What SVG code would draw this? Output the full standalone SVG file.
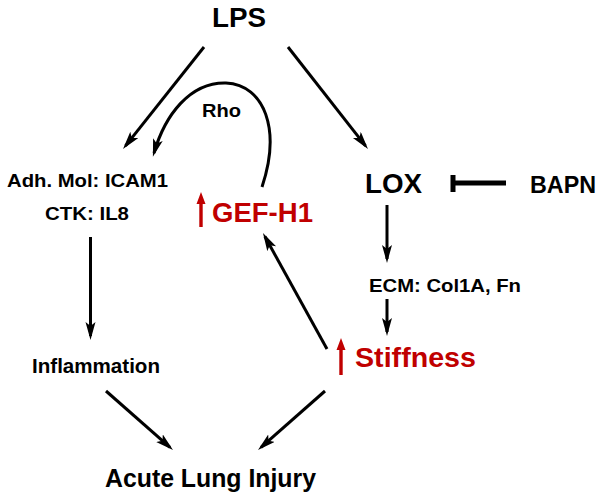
<svg xmlns="http://www.w3.org/2000/svg" width="602" height="501" viewBox="0 0 602 501">
  <style>
    text { font-family: "Liberation Sans", Arial, sans-serif; font-weight: bold; fill: #000; }
    .red { fill: #c00000; }
    .conn { stroke: #000; stroke-width: 3; fill: none; stroke-linecap: butt; }
    .inh { stroke: #000; stroke-width: 5; fill: none; }
  </style>
  <defs>
    <marker id="ah" markerWidth="20" markerHeight="12" refX="14" refY="5" orient="auto" markerUnits="userSpaceOnUse">
      <path d="M0,0 L18,5 L0,10 L4,5 z" fill="#000"/>
    </marker>
  </defs>
  <rect width="602" height="501" fill="#fff"/>

  <g id="connectors">
    <line class="conn" x1="204" y1="47" x2="125.5" y2="145.9" marker-end="url(#ah)"/>
    <line class="conn" x1="288" y1="47" x2="365.5" y2="145.9" marker-end="url(#ah)"/>
    <path class="conn" d="M262,187 C281,130 265,85 226,83 C190,82 165,115 154,153" marker-end="url(#ah)"/>
    <line class="conn" x1="90.5" y1="237" x2="90.5" y2="336" marker-end="url(#ah)"/>
    <line class="conn" x1="387" y1="205" x2="387" y2="259" marker-end="url(#ah)"/>
    <line class="conn" x1="387" y1="299" x2="387" y2="332" marker-end="url(#ah)"/>
    <line class="conn" x1="327" y1="349" x2="264.9" y2="236.5" marker-end="url(#ah)"/>
    <line class="conn" x1="106" y1="391" x2="170" y2="447.4" marker-end="url(#ah)"/>
    <line class="conn" x1="325" y1="391" x2="261" y2="447.4" marker-end="url(#ah)"/>
    <g id="inhibition">
      <line class="inh" x1="453" y1="183" x2="506" y2="183"/>
      <line class="inh" x1="453" y1="175" x2="453" y2="192"/>
    </g>
  </g>

  <g id="node-lps"><text x="212" y="27" font-size="27" textLength="54" lengthAdjust="spacingAndGlyphs">LPS</text></g>
  <g id="node-adh">
    <text x="7" y="187" font-size="18.5" textLength="161" lengthAdjust="spacingAndGlyphs">Adh. Mol: ICAM1</text>
    <text x="45" y="219.5" font-size="18.5" textLength="84" lengthAdjust="spacingAndGlyphs">CTK: IL8</text>
  </g>
  <g id="label-rho"><text x="202" y="117" font-size="18.5" textLength="39" lengthAdjust="spacingAndGlyphs">Rho</text></g>
  <g id="node-gefh1">
    <path class="red" d="M201,192 L205.5,204 L202.7,204 L202.7,227 L199.3,227 L199.3,204 L196.5,204 z"/>
    <text class="red" x="212" y="222" font-size="28" textLength="101" lengthAdjust="spacingAndGlyphs">GEF-H1</text>
  </g>
  <g id="node-lox"><text x="365" y="193" font-size="28" textLength="57" lengthAdjust="spacingAndGlyphs">LOX</text></g>
  <g id="node-bapn"><text x="530" y="193" font-size="24" textLength="66" lengthAdjust="spacingAndGlyphs">BAPN</text></g>
  <g id="node-ecm"><text x="369" y="292" font-size="18.5" textLength="152" lengthAdjust="spacingAndGlyphs">ECM: Col1A, Fn</text></g>
  <g id="node-inflammation"><text x="32" y="373" font-size="20" textLength="128" lengthAdjust="spacingAndGlyphs">Inflammation</text></g>
  <g id="node-stiffness">
    <path class="red" d="M341,338 L345.5,350 L342.7,350 L342.7,375 L339.3,375 L339.3,350 L336.5,350 z"/>
    <text class="red" x="355" y="367" font-size="28.5" textLength="121" lengthAdjust="spacingAndGlyphs">Stiffness</text>
  </g>
  <g id="node-ali"><text x="105" y="487" font-size="25" textLength="211" lengthAdjust="spacingAndGlyphs">Acute Lung Injury</text></g>
</svg>
